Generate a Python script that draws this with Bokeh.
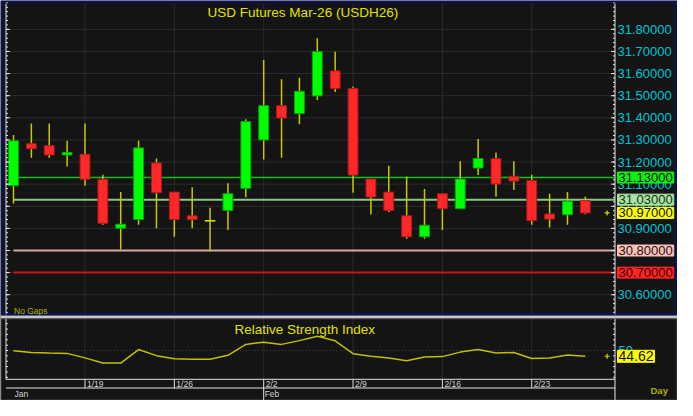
import numpy as np
from bokeh.plotting import figure
from bokeh.models import Range1d, Label, ColumnDataSource, BoxAnnotation
from bokeh.core.properties import value
from bokeh.embed import file_html
from bokeh.resources import INLINE

# ---------------- data ----------------
dates = ["1/13", "1/14", "1/15", "1/16", "1/19", "1/20", "1/21", "1/22", "1/23",
         "1/26", "1/27", "1/28", "1/29", "1/30", "2/2", "2/3", "2/4", "2/5", "2/6",
         "2/9", "2/10", "2/11", "2/12", "2/13", "2/16", "2/17", "2/18", "2/19", "2/20",
         "2/23", "2/24", "2/25", "2/26"]
opens = [31.093, 31.283, 31.274, 31.232, 31.235, 31.122, 30.901, 30.940, 31.196,
         31.064, 30.957, 30.935, 30.981, 31.081, 31.300, 31.455, 31.419, 31.499, 31.612,
         31.533, 31.123, 31.064, 30.957, 30.862, 31.057, 30.989, 31.173, 31.216, 31.136,
         31.116, 30.965, 30.962, 31.025]
highs = [31.322, 31.374, 31.374, 31.296, 31.374, 31.143, 31.064, 31.296, 31.216,
         31.064, 31.086, 30.993, 31.104, 31.394, 31.661, 31.574, 31.581, 31.760, 31.699,
         31.542, 31.123, 31.183, 31.135, 31.078, 31.057, 31.204, 31.304, 31.243, 31.204,
         31.143, 31.057, 31.064, 31.043]
lows = [31.013, 31.219, 31.219, 31.180, 31.093, 30.916, 30.804, 30.916, 30.901,
        30.862, 30.901, 30.796, 30.893, 31.041, 31.212, 31.219, 31.371, 31.480, 31.517,
        31.061, 30.963, 30.974, 30.853, 30.853, 30.893, 30.989, 31.141, 31.043, 31.073,
        30.916, 30.904, 30.916, 30.964]
closes = [31.296, 31.260, 31.232, 31.243, 31.122, 30.923, 30.919, 31.264, 31.061,
          30.940, 30.940, 30.935, 31.057, 31.383, 31.455, 31.399, 31.520, 31.699, 31.532,
          31.141, 31.042, 30.981, 30.862, 30.914, 30.989, 31.123, 31.216, 31.101, 31.114,
          30.935, 30.942, 31.023, 30.970]
rsi = [49.7, 48.2, 47.6, 47.3, 43.1, 38.3, 38.3, 50.9, 45.2, 42.2, 41.9, 41.9, 45.5,
       55.7, 57.8, 55.7, 59.2, 63.2, 59.0, 47.0, 44.6, 43.1, 40.4, 44.0, 44.3, 48.5,
       50.9, 47.6, 48.2, 42.6, 43.1, 45.8, 44.62]

week_labels = ["1/19", "1/26", "2/2", "2/9", "2/16", "2/23"]
month_labels = ["Jan", "Feb"]
month_starts = ["1/13", "2/2"]
price_ticks = [30.6, 30.7, 30.8, 30.9, 31.0, 31.1, 31.2, 31.3, 31.4, 31.5, 31.6, 31.7, 31.8]
rsi_ticks = [25, 30, 35, 40, 45, 50, 55, 60, 65, 70, 75]
level_values = [31.13, 31.03, 30.80, 30.70]
level_line_colors = ["#00c800", "#8cc48c", "#d8a8a0", "#c81818"]
level_line_widths = [1.5, 2.0, 2.0, 2.0]
level_label_colors = ["#10f010", "#a8e4a0", "#f8c0b8", "#ff2424"]
level_text_colors = ["#101010", "#203020", "#301010", "#3a0000"]
title_text = "USD  Futures  Mar-26  (USDH26)"
rsi_title = "Relative  Strength  Index"

# ---------------- layout (canvas pixels) ----------------
W, H = 677, 400
XL, XR = -0.7275, 37.157          # index range across the whole canvas
P0, P1 = 30.1217, 31.93045        # price range across the whole canvas
R0, R1 = 3.358, 376.49            # RSI range across the whole canvas
LX = 5.5                          # left axis line
AX = 614.5                        # right axis line
TOP = 3
PRICE_BOTTOM = 314.0
RSI_TOP, RSI_BOTTOM = 318.3, 378.8
ROW_SEP = 387.5

BG = "#141414"
GRID = "#2c2c2c"
WHITE = "#e4e4e4"
CYAN = "#00c4d4"
YEL = "#e2e200"
OLIVE = "#b0b000"
FONT = "Liberation Sans"

p = figure(width=W, height=H, x_range=Range1d(XL, XR), y_range=Range1d(P0, P1),
           output_backend="svg", toolbar_location=None,
           x_axis_location=None, y_axis_location=None,
           min_border_left=0, min_border_right=0, min_border_top=0, min_border_bottom=0,
           background_fill_color=BG, border_fill_color=BG, outline_line_color=None)
p.grid.visible = False
p.extra_y_ranges = {"rsi": Range1d(R0, R1), "py": Range1d(H, 0)}
p.extra_x_ranges = {"px": Range1d(0, W)}

idx_at_axis = XL + AX / W * (XR - XL)

# ---------- grids ----------
n_pt = len(price_ticks)
p.segment(x0=[LX] * n_pt, x1=[AX] * n_pt, y0=price_ticks, y1=price_ticks,
          x_range_name="px", line_color=GRID, line_width=1)
week_idx = [dates.index(w) for w in week_labels]
month_idx = [dates.index(m) for m in month_starts]
n_w = len(week_idx)
p.segment(x0=week_idx, x1=week_idx, y0=[TOP] * n_w, y1=[PRICE_BOTTOM] * n_w,
          y_range_name="py", line_color=GRID, line_width=1)
p.segment(x0=week_idx, x1=week_idx, y0=[RSI_TOP] * n_w, y1=[RSI_BOTTOM] * n_w,
          y_range_name="py", line_color=GRID, line_width=1)
p.segment(x0=[LX], x1=[AX], y0=[50], y1=[50], x_range_name="px", y_range_name="rsi",
          line_color="#404040", line_dash="1 2", line_width=1)

# ---------- horizontal level lines ----------
n_l = len(level_values)
lsrc = ColumnDataSource(dict(x0=[0] * n_l, x1=[idx_at_axis] * n_l, y=level_values,
                             c=level_line_colors, w=level_line_widths))
p.segment(x0="x0", x1="x1", y0="y", y1="y", source=lsrc, line_color="c", line_width="w")

# ---------- candles ----------
idx = list(range(len(dates)))
UP, DN, DOJI = "#00ff00", "#ff2828", "#d8d800"
colors = [UP if c > o else (DN if c < o else DOJI) for o, c in zip(opens, closes)]
edges = ["#00a800" if c > o else ("#b01818" if c < o else DOJI) for o, c in zip(opens, closes)]
src = ColumnDataSource(dict(x=idx, o=opens, h=highs, l=lows, c=closes,
                            top=[max(o, c) for o, c in zip(opens, closes)],
                            bot=[min(o, c) for o, c in zip(opens, closes)],
                            color=colors, edge=edges))
p.segment(x0="x", y0="l", x1="x", y1="h", source=src, line_color="#c8c800", line_width=1.5)
p.vbar(x="x", width=0.55, top="top", bottom="bot", source=src,
       fill_color="color", line_color="edge", line_width=1)
dj = [i for i in idx if opens[i] == closes[i]]
p.segment(x0=[i - 0.3 for i in dj], x1=[i + 0.3 for i in dj],
          y0=[opens[i] for i in dj], y1=[opens[i] for i in dj],
          line_color=DOJI, line_width=1.5)

# ---------- RSI line ----------
p.line(idx, rsi, y_range_name="rsi", line_color="#c0c000", line_width=1.5)

# last-value markers
p.scatter(x=[idx[-1] + 1.22], y=[closes[-1]], marker="cross", size=5,
          line_color=DOJI, line_width=1.2)
p.scatter(x=[idx[-1] + 1.22], y=[rsi[-1]], marker="cross", size=5,
          line_color=DOJI, line_width=1.2, y_range_name="rsi")

# ---------- left axis (line + inward ticks) ----------
minor_price = [round(v, 2) for v in np.arange(30.52, 31.92, 0.02)]
n_mp, n_rt = len(minor_price), len(rsi_ticks)
p.segment(x0=[LX, LX], x1=[LX, LX], y0=[TOP, RSI_TOP], y1=[PRICE_BOTTOM, RSI_BOTTOM],
          x_range_name="px", y_range_name="py", line_color=WHITE, line_width=1)
p.segment(x0=[LX] * n_pt, x1=[LX + 4] * n_pt, y0=price_ticks, y1=price_ticks,
          x_range_name="px", line_color=WHITE, line_width=1)
p.segment(x0=[LX] * n_mp, x1=[LX + 2] * n_mp, y0=minor_price, y1=minor_price,
          x_range_name="px", line_color=WHITE, line_width=1)
p.segment(x0=[LX] * n_rt, x1=[LX + 2] * n_rt, y0=rsi_ticks, y1=rsi_ticks,
          x_range_name="px", y_range_name="rsi", line_color=WHITE, line_width=1)

# ---------- right axis (line, inward ticks, labels) ----------
p.segment(x0=[AX, AX], x1=[AX, AX], y0=[TOP, RSI_TOP], y1=[PRICE_BOTTOM, H],
          x_range_name="px", y_range_name="py", line_color=WHITE, line_width=1)
p.segment(x0=[AX - 4] * n_pt, x1=[AX] * n_pt, y0=price_ticks, y1=price_ticks,
          x_range_name="px", line_color=WHITE, line_width=1)
p.segment(x0=[AX - 2] * n_mp, x1=[AX] * n_mp, y0=minor_price, y1=minor_price,
          x_range_name="px", line_color=WHITE, line_width=1)
p.segment(x0=[AX - 2] * n_rt, x1=[AX] * n_rt, y0=rsi_ticks, y1=rsi_ticks,
          x_range_name="px", y_range_name="rsi", line_color=WHITE, line_width=1)
p.text(x=[AX + 2.5] * n_pt, y=price_ticks, text=[f"{t:.5f}" for t in price_ticks],
       x_range_name="px", text_font=value(FONT), text_font_size=value("13px"),
       text_color=CYAN, text_align="left", text_baseline="middle")
p.text(x=[AX + 3.5], y=[50], text=["50"], x_range_name="px", y_range_name="rsi",
       text_font=value(FONT), text_font_size=value("13px"),
       text_color=CYAN, text_align="left", text_baseline="middle")

# ---------- date rows ----------
p.segment(x0=[LX, LX], x1=[AX, AX], y0=[RSI_BOTTOM, ROW_SEP], y1=[RSI_BOTTOM, ROW_SEP],
          x_range_name="px", y_range_name="py", line_color=WHITE, line_width=1)
p.segment(x0=week_idx, x1=week_idx, y0=[RSI_BOTTOM] * n_w, y1=[ROW_SEP] * n_w,
          y_range_name="py", line_color=WHITE, line_width=1)
p.segment(x0=month_idx[1:], x1=month_idx[1:], y0=[ROW_SEP] * (len(month_idx) - 1),
          y1=[H] * (len(month_idx) - 1), y_range_name="py", line_color=WHITE, line_width=1)
p.text(x=week_idx, y=[383.4] * n_w, text=week_labels, y_range_name="py",
       x_offset=2, text_font=value(FONT), text_font_size=value("8.5px"),
       text_color="#d0d0d0", text_align="left", text_baseline="middle")
p.text(x=month_idx, y=[393.5] * len(month_idx), text=month_labels, y_range_name="py",
       x_offset=1, text_font=value(FONT), text_font_size=value("8.5px"),
       text_color="#d0d0d0", text_align="left", text_baseline="middle")

# ---------- panel decorations ----------
p.add_layout(BoxAnnotation(left=0, right=W, top=315.0, bottom=RSI_TOP - 0.6,
                           x_range_name="px", y_range_name="py",
                           fill_color="#c8c8c8", fill_alpha=1, line_color=None))
p.add_layout(BoxAnnotation(left=1.6, right=W - 1.6, top=1.6, bottom=313.6,
                           x_range_name="px", y_range_name="py",
                           fill_alpha=0, line_color="#0018c8", line_width=3))
p.add_layout(BoxAnnotation(left=0.5, right=W - 0.5, top=RSI_TOP, bottom=H - 0.5,
                           x_range_name="px", y_range_name="py",
                           fill_alpha=0, line_color="#bcbcbc", line_width=1))

# ---------- texts ----------
p.add_layout(Label(x=308, y=11.5, x_range_name="px", y_range_name="py", text=title_text,
                   text_font=FONT, text_font_size="13.5px", text_color=YEL,
                   text_align="center", text_baseline="middle"))
p.add_layout(Label(x=13.5, y=310.0, x_range_name="px", y_range_name="py", text="No Gaps",
                   text_font=FONT, text_font_size="8.5px", text_color=OLIVE,
                   text_align="left", text_baseline="middle"))
p.add_layout(Label(x=308, y=328.5, x_range_name="px", y_range_name="py", text=rsi_title,
                   text_font=FONT, text_font_size="13.5px", text_color=YEL,
                   text_align="center", text_baseline="middle"))
p.add_layout(Label(x=650, y=389.5, x_range_name="px", y_range_name="py", text="Day",
                   text_font=FONT, text_font_size="9.5px", text_color=OLIVE,
                   text_font_style="bold", text_align="left", text_baseline="middle"))

# value boxes on the price axis
for v, bg, fg in zip(level_values, level_label_colors, level_text_colors):
    p.add_layout(Label(x=AX + 2.5, y=v, x_range_name="px", text=f"{v:.5f}",
                       text_font=FONT, text_font_size="13px", text_color=fg,
                       text_align="left", text_baseline="middle",
                       background_fill_color=bg, border_line_color=bg, padding=1))
p.add_layout(Label(x=AX + 2.5, y=closes[-1], x_range_name="px", text=f"{closes[-1]:.5f}",
                   text_font=FONT, text_font_size="13px", text_color="#101010",
                   text_align="left", text_baseline="middle",
                   background_fill_color="#ffff00", border_line_color="#ffff00", padding=1))
p.add_layout(Label(x=AX + 2.5, y=rsi[-1], x_range_name="px", y_range_name="rsi",
                   text=f"{rsi[-1]:.2f}",
                   text_font=FONT, text_font_size="14px", text_color="#101010",
                   text_align="left", text_baseline="middle",
                   background_fill_color="#ffff00", border_line_color="#ffff00", padding=1))

open("out.html", "w").write(file_html(p, INLINE, "USD Futures Mar-26"))
